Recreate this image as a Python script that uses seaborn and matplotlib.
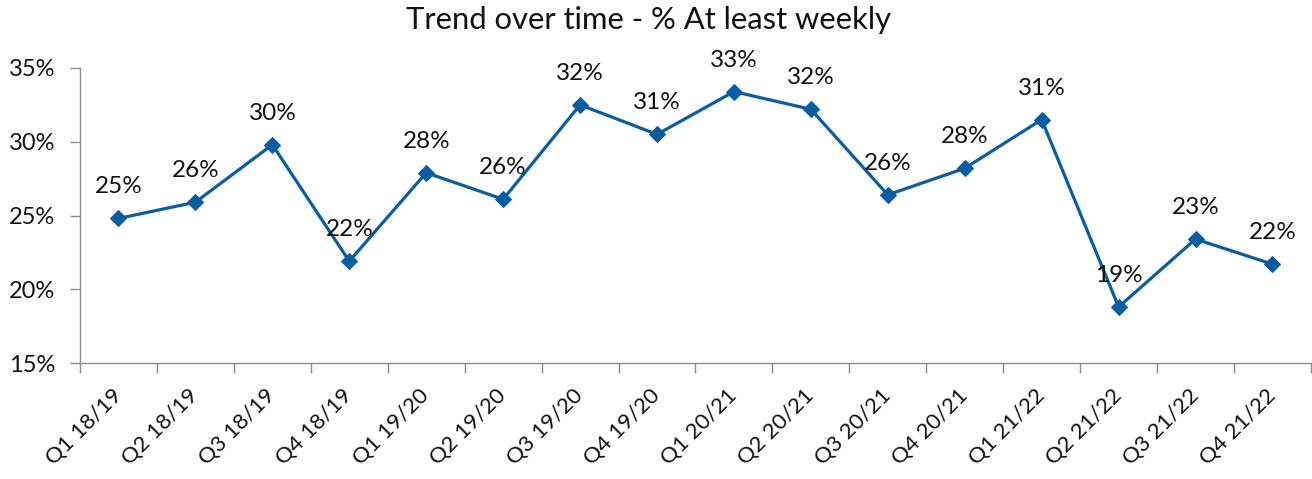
import matplotlib
matplotlib.use("Agg")
import matplotlib.pyplot as plt
import matplotlib.transforms as mtransforms
import seaborn as sns
import pandas as pd
from matplotlib.ticker import FixedLocator, PercentFormatter

quarters = ["Q1 18/19", "Q2 18/19", "Q3 18/19", "Q4 18/19",
            "Q1 19/20", "Q2 19/20", "Q3 19/20", "Q4 19/20",
            "Q1 20/21", "Q2 20/21", "Q3 20/21", "Q4 20/21",
            "Q1 21/22", "Q2 21/22", "Q3 21/22", "Q4 21/22"]
values = [24.8, 25.9, 29.8, 21.9, 27.9, 26.1, 32.5, 30.5,
          33.4, 32.2, 26.4, 28.2, 31.5, 18.8, 23.4, 21.7]
labels = ["25%", "26%", "30%", "22%", "28%", "26%", "32%", "31%",
          "33%", "32%", "26%", "28%", "31%", "19%", "23%", "22%"]
yticks = [15, 20, 25, 30, 35]

sns.set_theme(style="white")
plt.rcParams["font.family"] = ["Lato", "DejaVu Sans"]

df = pd.DataFrame({"pos": range(len(quarters)), "value": values})

fig = plt.figure(figsize=(13.12, 4.79), dpi=100)
ax = fig.add_axes([80 / 1312, 1 - 363 / 479, 1 - 80 / 1312 - 0.0008, (363 - 68) / 479])

color = "#0A5DA0"
sns.lineplot(data=df, x="pos", y="value", ax=ax, color=color, linewidth=2.3,
             marker="D", markersize=8, markeredgecolor=color)

for x, v, lab in zip(df["pos"], values, labels):
    ax.annotate(lab, (x, v), xytext=(0, 18), textcoords="offset points",
                ha="center", va="baseline", fontsize=17.5, color="#111111")

ax.set_xlim(-0.5, len(quarters) - 0.5)
ax.set_ylim(15, 35)
ax.set_yticks(yticks)
ax.yaxis.set_major_formatter(PercentFormatter(decimals=0))
ax.set_xticks(range(len(quarters)))
ax.set_xticklabels(quarters, rotation=45, ha="right", va="center", rotation_mode="anchor",
                   fontsize=16, color="#111111")
shift = mtransforms.ScaledTranslation(15 / 100, -3 / 100, fig.dpi_scale_trans)
for t in ax.get_xticklabels():
    t.set_transform(t.get_transform() + shift)
ax.xaxis.set_minor_locator(FixedLocator([i - 0.5 for i in range(len(quarters) + 1)]))
ax.tick_params(axis="x", which="major", length=0, pad=21)
ax.tick_params(axis="x", which="minor", length=7, width=1, color="#8c8c8c", direction="out", bottom=True)
ax.tick_params(axis="y", which="major", length=7, width=1, color="#8c8c8c", direction="out",
               left=True, labelsize=17, labelcolor="#111111", pad=11)
ax.set_xlabel("")
ax.set_ylabel("")
ax.grid(False)
for side in ["top", "right"]:
    ax.spines[side].set_visible(False)
for side in ["left", "bottom"]:
    ax.spines[side].set_color("#8c8c8c")
    ax.spines[side].set_linewidth(1)

fig.text(649 / 1312, 1 - 29 / 479, "Trend over time - % At least weekly",
         fontsize=22.3, color="#111111", ha="center", va="baseline")

fig.savefig("out.png", dpi=100)
